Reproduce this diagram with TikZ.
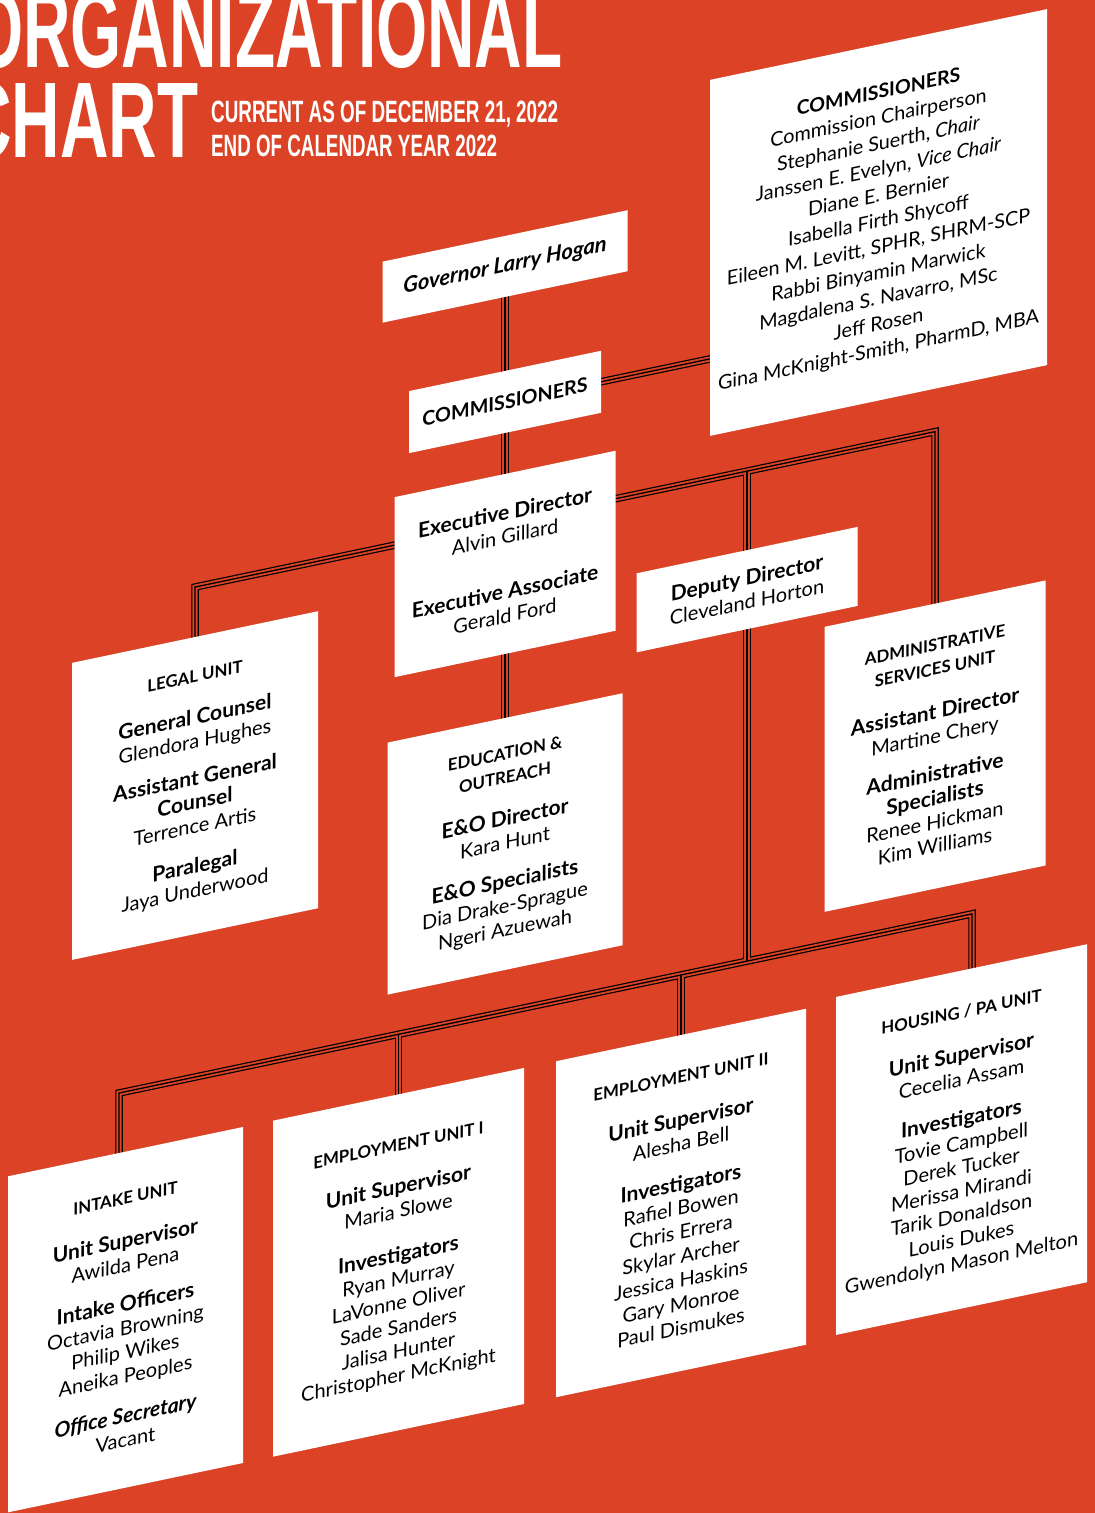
\documentclass[tikz,border=0pt]{standalone}
\usepackage{fontspec}
\setmainfont{Lato}
\newfontfamily\titlefont{Liberation Sans}
\definecolor{bg}{RGB}{220,67,38}
\pgfdeclarelayer{bgl}
\pgfdeclarelayer{conn}
\pgfsetlayers{bgl,conn,main}
\newcommand\hd[1]{{\fontsize{16.8}{24}\selectfont\bfseries #1}}
\newcommand\rl[1]{{\fontsize{21}{24}\selectfont\bfseries #1}}
\newcommand\orgconn[1]{%
  \draw[#1, shorten <=-4pt, shorten >=-4pt] (gov.south) -- (edu.north);
  \draw[#1, shorten <=-4pt] (comm.east) -- (m2);
  \draw[#1, shorten <=-4pt, shorten >=-4pt] (legal.north) -- (cL) -- (cR) -- (admin.north);
  \draw[#1] (cD) -- (bD);
  \draw[#1] (ki) -- (bL) -- (bR) -- (kh);
  \draw[#1, shorten >=-4pt] (b1) -- (emp1.north);
  \draw[#1, shorten >=-4pt] (b2) -- (emp2.north);
}
\begin{document}
\begin{tikzpicture}[x=1pt,y=-1pt,
  orgbox/.style={fill=white, inner sep=0pt, transform shape, align=center,
    font=\fontsize{20}{24}\selectfont, text=black},
  ttl/.style={anchor=base west, inner sep=0pt, text=white}]
\useasboundingbox (0,0) rectangle (1095,1513);
\begin{pgfonlayer}{bgl}
\fill[bg] (0,0) rectangle (1095,1513);
\end{pgfonlayer}
\clip (0,0) rectangle (1095,1513);
% title
\node[ttl] (t1) at (-28,67) {\resizebox{590pt}{77pt}{\titlefont\bfseries ORGANIZATIONAL}};
\node[ttl] (t2) at (-37,157) {\resizebox{235pt}{75pt}{\titlefont\bfseries CHART}};
\node[ttl] (t3) at (211,122) {\resizebox{347pt}{21.5pt}{\titlefont\bfseries CURRENT AS OF DECEMBER 21, 2022}};
\node[ttl] (t4) at (211,156) {\resizebox{286pt}{21.5pt}{\titlefont\bfseries END OF CALENDAR YEAR 2022}};
\begin{scope}[yslant=0.21]
\node[orgbox, minimum width=245pt, minimum height=61pt] (gov) at (505,372.5)
  {\fontsize{21.8}{24}\selectfont\bfseries\itshape Governor Larry Hogan};
\node[orgbox, minimum width=192pt, minimum height=62pt] (comm) at (505,508)
  {\fontsize{19.7}{24}\selectfont\bfseries COMMISSIONERS};
\node[orgbox, minimum width=337pt, minimum height=356pt, font=\fontsize{19.8}{25.8}\selectfont] (commbig) at (878.5,407)
  {{\bfseries\fontsize{19.5}{25.8}\selectfont COMMISSIONERS}\\
   Commission Chairperson\\
   Stephanie Suerth, \textit{Chair}\\
   Janssen E. Evelyn, \textit{Vice Chair}\\
   Diane E. Bernier\\
   Isabella Firth Shycoff\\
   Eileen M. Levitt, SPHR, SHRM-SCP\\
   Rabbi Binyamin Marwick\\
   Magdalena S. Navarro, MSc\\
   Jeff Rosen\\
   Gina McKnight-Smith, PharmD, MBA};
\node[orgbox, minimum width=221pt, minimum height=180pt] (exec) at (505,670)
  {\rl{Executive Director}\\ Alvin Gillard\\[31pt] \rl{Executive Associate}\\ Gerald Ford};
\node[orgbox, minimum width=246pt, minimum height=297pt] (legal) at (195,826.5)
  {\hd{LEGAL UNIT}\\[18pt] \rl{General Counsel}\\ Glendora Hughes\\[13pt]
   \rl{Assistant General}\\ \rl{Counsel}\\ Terrence Artis\\[16pt] \rl{Paralegal}\\ Jaya Underwood};
\node[orgbox, minimum width=235pt, minimum height=252pt] (edu) at (505,950)
  {\hd{EDUCATION \&}\\ \hd{OUTREACH}\\[18pt] \rl{E\&O Director}\\ Kara Hunt\\[15pt]
   \rl{E\&O Specialists}\\ Dia Drake-Sprague\\ Ngeri Azuewah};
\node[orgbox, minimum width=221pt, minimum height=79pt] (deputy) at (747,746.5)
  {\rl{Deputy Director}\\ Cleveland Horton};
\node[orgbox, minimum width=221pt, minimum height=285pt] (admin) at (935,942.5)
  {\hd{ADMINISTRATIVE}\\ \hd{SERVICES UNIT}\\[20pt] \rl{Assistant Director}\\ Martine Chery\\[14pt]
   \rl{Administrative}\\ \rl{Specialists}\\ Renee Hickman\\ Kim Williams};
\node[orgbox, minimum width=235pt, minimum height=336pt] (intake) at (125.5,1346)
  {\hd{INTAKE UNIT}\\[20pt] \rl{Unit Supervisor}\\ Awilda Pena\\[15pt] \rl{Intake Officers}\\
   Octavia Browning\\ Philip Wikes\\ Aneika Peoples\\[16pt] {\fontsize{21}{24}\selectfont\bfseries\itshape Office Secretary}\\ Vacant};
\node[orgbox, minimum width=251pt, minimum height=336pt] (emp1) at (398.5,1346)
  {\hd{EMPLOYMENT UNIT I}\\[19pt] \rl{Unit Supervisor}\\ Maria Slowe\\[20pt] \rl{Investigators}\\
   Ryan Murray\\ LaVonne Oliver\\ Sade Sanders\\ Jalisa Hunter\\ Christopher McKnight};
\node[orgbox, minimum width=250pt, minimum height=336pt] (emp2) at (681,1346)
  {\hd{EMPLOYMENT UNIT II}\\[20pt] \rl{Unit Supervisor}\\ Alesha Bell\\[16pt] \rl{Investigators}\\
   Rafiel Bowen\\ Chris Errera\\ Skylar Archer\\ Jessica Haskins\\ Gary Monroe\\ Paul Dismukes};
\node[orgbox, minimum width=251pt, minimum height=338pt] (housing) at (961.5,1341.5)
  {\hd{HOUSING / PA UNIT}\\[20pt] \rl{Unit Supervisor}\\ Cecelia Assam\\[16pt] \rl{Investigators}\\
   Tovie Campbell\\ Derek Tucker\\ Merissa Mirandi\\ Tarik Donaldson\\ Louis Dukes\\ Gwendolyn Mason Melton};
% connector corner points
\coordinate (m2) at (720,508);
\coordinate (cL) at (195,628);
\coordinate (cR) at (935,628);
\coordinate (cD) at (747,628);
\coordinate (bL) at (119,1118);
\coordinate (bR) at (972,1118);
\coordinate (bD) at (747,1118);
\coordinate (b1) at (398.5,1118);
\coordinate (b2) at (681,1118);
\coordinate (ki) at (119,1192);
\coordinate (kh) at (972,1188);
\begin{pgfonlayer}{conn}
\orgconn{line width=7.5pt, black}
\orgconn{line width=5.1pt, bg}
\orgconn{line width=1.3pt, black}
\end{pgfonlayer}
\end{scope}
\end{tikzpicture}
\end{document}
